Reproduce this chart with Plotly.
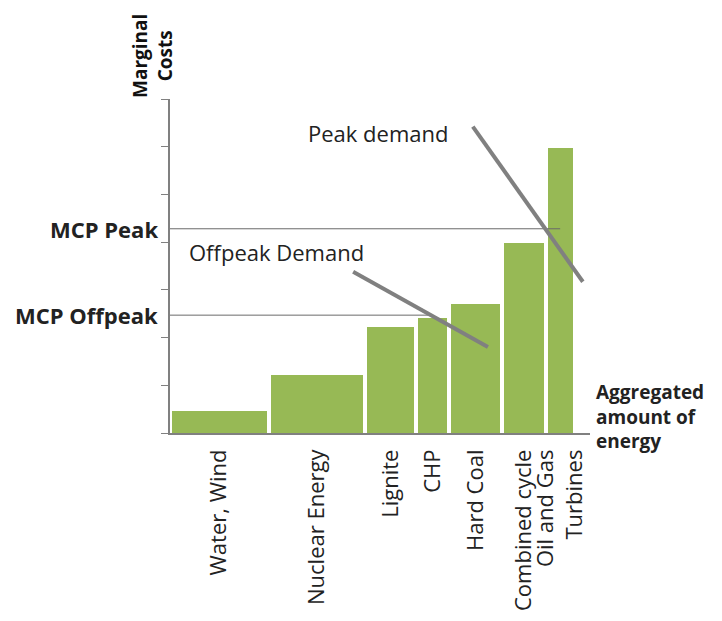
import numpy as np
import plotly.graph_objects as go

# merit order: technologies, capacity (slot width) and marginal cost
technologies = ["Water, Wind", "Nuclear Energy", "Lignite", "CHP", "Hard Coal",
                "Combined cycle", "Oil and Gas<br>Turbines"]
capacity = [23.5, 23.0, 12.0, 8.0, 12.5, 10.5, 7.0]
marginal_cost = [0.46, 1.22, 2.22, 2.41, 2.70, 3.98, 5.97]

mcp_peak = 4.28
mcp_offpeak = 2.47
mcp_peak_end = 92.9
mcp_offpeak_end = 61.5

peak_demand_x = [72.1, 98.3]
peak_demand_y = [6.42, 3.17]
offpeak_demand_x = [43.6, 75.7]
offpeak_demand_y = [3.38, 1.80]

gap = 0.9
ends = np.cumsum(capacity)
starts = ends - np.array(capacity)
centers = (starts + ends) / 2
widths = np.array(capacity) - gap

FONT = "Open Sans"
GREEN = "#97b955"
GREY = "#808080"
TXT = "#222222"

fig = go.Figure()
fig.add_trace(go.Bar(x=centers, y=marginal_cost, width=widths,
                     marker=dict(color=GREEN, line=dict(width=0)),
                     showlegend=False))

for lvl, xe in [(mcp_peak, mcp_peak_end), (mcp_offpeak, mcp_offpeak_end)]:
    fig.add_trace(go.Scatter(x=[0, xe], y=[lvl, lvl], mode="lines",
                             line=dict(color="#6a6a6a", width=1),
                             showlegend=False))

for xs, ys in [(peak_demand_x, peak_demand_y), (offpeak_demand_x, offpeak_demand_y)]:
    fig.add_trace(go.Scatter(x=xs, y=ys, mode="lines",
                             line=dict(color=GREY, width=4),
                             showlegend=False))

# page body adds an 8px margin all round, so keep the figure inside the window
fig.update_layout(
    width=706, height=605,
    margin=dict(l=162, r=124, t=91, b=180),
    plot_bgcolor="white", paper_bgcolor="white",
    font=dict(family=FONT, color=TXT),
    bargap=0,
)
fig.update_xaxes(range=[0, 100], showline=True, linecolor=GREY, linewidth=1.5,
                 showgrid=False, zeroline=False, ticks="",
                 tickvals=centers, ticktext=technologies, tickangle=-90,
                 tickfont=dict(size=22, family=FONT, color=TXT),
                 ticklabelstandoff=6, automargin=False)
fig.update_yaxes(range=[0, 7], showline=True, linecolor=GREY, linewidth=1.5,
                 showgrid=False, zeroline=False, ticks="outside", ticklen=7,
                 tickcolor=GREY, tickwidth=1, dtick=1, showticklabels=False)

bold = dict(family=FONT, size=22, color=TXT)
fig.add_annotation(text="<b>MCP Peak</b>", xref="paper", yref="y", x=0, y=mcp_peak,
                   xanchor="right", xshift=-10, showarrow=False, font=bold)
fig.add_annotation(text="<b>MCP Offpeak</b>", xref="paper", yref="y", x=0, y=mcp_offpeak,
                   xanchor="right", xshift=-10, showarrow=False, font=bold)
fig.add_annotation(text="<b>Marginal<br>Costs</b>", xref="paper", yref="paper",
                   x=0, y=1, xanchor="center", yanchor="bottom", xshift=-18,
                   textangle=-90, showarrow=False, borderpad=0,
                   font=dict(family=FONT, size=19, color="#111111"))
fig.add_annotation(text="<b>Aggregated<br>amount of<br>energy</b>", xref="paper", yref="paper",
                   x=1, y=0.048, xanchor="left", yanchor="middle", xshift=5, align="left",
                   showarrow=False, borderpad=0,
                   font=dict(family=FONT, size=19, color=TXT))
fig.add_annotation(text="Peak demand", xref="x", yref="y", x=66.7, y=6.29,
                   xanchor="right", yanchor="middle", showarrow=False,
                   font=dict(family=FONT, size=22, color=TXT))
fig.add_annotation(text="Offpeak Demand", xref="x", yref="y", x=4.0, y=3.79,
                   xanchor="left", yanchor="middle", showarrow=False,
                   font=dict(family=FONT, size=22, color=TXT))

fig.write_html("out.html")
